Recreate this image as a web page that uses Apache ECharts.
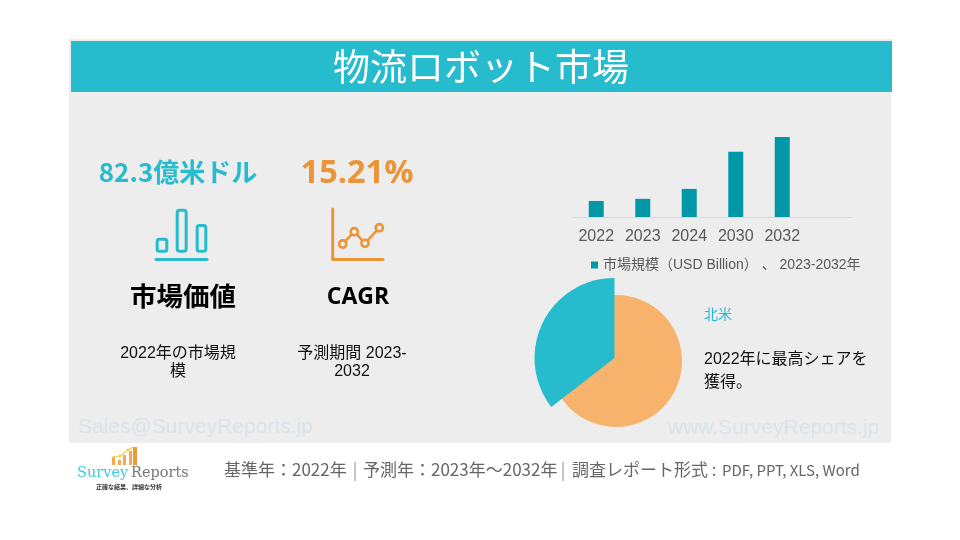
<!DOCTYPE html>
<html><head><meta charset="utf-8">
<style>html,body{margin:0;padding:0;background:#fff}#c{width:960px;height:540px}</style>
<script src="https://cdn.jsdelivr.net/npm/echarts@6/dist/echarts.min.js"></script>
</head><body><div id="c"></div>
<script>
const categories = ['2022','2023','2024','2030','2032',''];
const marketSize = [8.23,9.3,14.4,33.4,41,null];
const pieNames = ['その他','北米'];
const pieValues = [64.5,35.5];
const seriesName = '市場規模（USD Billion） 、 2023-2032年';
const TEAL='#26BBCD', ORANGE='#EB9537', PIE_ORANGE='#F7B36B', JP='"Noto Sans CJK JP"', LAT='"Open Sans"', ARIAL='"Liberation Sans","Noto Sans CJK JP"';

function text(x,y,t,size,fill,opt={}){
  return {type:'text',x,y,silent:true,z:opt.z||5,style:{text:t,fontSize:size,fill,
    fontFamily:opt.font||JP,fontWeight:opt.weight||'normal',
    align:opt.align||'center',verticalAlign:'middle',lineHeight:opt.lh}};
}
function rrect(x,y,w,h,r,stroke,lw){return {type:'rect',z:5,silent:true,shape:{x,y,width:w,height:h,r},style:{fill:'none',stroke,lineWidth:lw}};}
function line(pts,stroke,lw){return {type:'polyline',z:5,silent:true,shape:{points:pts},style:{fill:'none',stroke,lineWidth:lw,lineCap:'round',lineJoin:'round'}};}
function ring(x,y,r,stroke,lw){return {type:'circle',z:6,silent:true,shape:{cx:x,cy:y,r},style:{fill:'#EDEDED',stroke,lineWidth:lw}};}
function dot(x,y,r,fill){return {type:'circle',z:6,silent:true,shape:{cx:x,cy:y,r},style:{fill}};}
function box(x,y,w,h,fill,z){return {type:'rect',silent:true,z:z||0,shape:{x,y,width:w,height:h},style:{fill}};}

const FG='#666666';
const graphics = [
  box(69,39,822,404,'#EDEDED',-1),
  box(891,39,1,2,'#EDEDED',-1),
  box(71,41,821,51,TEAL,0),
  text(481,67,'物流ロボット市場',37,'#fff'),
  text(178,172,'82.3億米ドル',26,TEAL,{weight:'bold'}),
  text(357,174,'15.21%',32.5,ORANGE,{font:LAT,weight:'bold'}),
  text(183,296,'市場価値',26.5,'#000',{weight:'bold'}),
  text(358,297,'CAGR',23,'#000',{font:LAT,weight:'bold'}),
  text(178,362.5,'2022年の市場規\n模',16,'#111',{lh:18,font:ARIAL}),
  text(352,362.5,'予測期間 2023-\n2032',16,'#111',{lh:18,font:ARIAL}),
  text(704,314,'北米',14,TEAL,{align:'left'}),
  text(704,371,'2022年に最高シェアを\n獲得。',16,'#111',{align:'left',lh:23,font:ARIAL}),
  text(78,427,'Sales@SurveyReports.jp',21,'#DAE3EB',{align:'left',font:'"Liberation Sans"'}),
  text(668,428,'www.SurveyReports.jp',21,'#DAE3EB',{align:'left',font:'"Liberation Sans"'}),
  text(224,470,'基準年：2022年',17,FG,{align:'left'}),
  text(355,470,'|',17,'#999',{}),
  text(363,470,'予測年：2023年～2032年',17,FG,{align:'left'}),
  text(563,470,'|',17,'#999',{}),
  text(572,470,'調査レポート形式 :',17,FG,{align:'left'}),
  text(722,470,'PDF, PPT, XLS, Word',15,FG,{align:'left'}),
  // bar icon
  rrect(157.2,239.2,9.6,12,2,TEAL,3),
  rrect(177.2,210.2,9,41,2.5,TEAL,3),
  rrect(197.2,225.5,8.6,25.7,2,TEAL,3),
  line([[156,259.5],[207,259.5]],TEAL,3),
  // CAGR icon
  line([[332.7,209],[332.7,259.5],[383,259.5]],ORANGE,3),
  line([[342.7,244],[354.3,231.7],[365,243.3],[379.3,227.7]],ORANGE,2.6),
  ring(342.7,244,3.6,ORANGE,2.6),ring(354.3,231.7,3.6,ORANGE,2.6),ring(365,243.3,3.6,ORANGE,2.6),ring(379.3,227.7,3.6,ORANGE,2.6),
  // logo
  box(112,457,3,8,'#F5A850',3),box(118,460,3,5,'#F5A850',3),box(123,455,3,10,'#F5A850',3),box(129,451,3,14,'#F5A850',3),box(133,447,4,18,'#F09A3C',3),
  line([[112,457],[120,456],[128,450],[133,447]],'#F5D04A',1.2),
  dot(120,456,1.4,'#F5D04A'),dot(128,450,1.4,'#F5D04A'),
  text(77,473,'Survey',14.5,'#3CC8E8',{align:'left',font:'"DejaVu Serif"'}),
  text(131,473,'Reports',14.5,'#777777',{align:'left',font:'"DejaVu Serif"'}),
  text(129,487,'正確な結果、詳細な分析',6,'#333',{weight:'bold'})
];

const chart = echarts.init(document.getElementById('c'),null,{renderer:'canvas'});
const noBorder = {borderWidth:0};
chart.setOption({
  animation:false,
  backgroundColor:'#fff',
  graphic:graphics,
  grid:{left:573,top:137,width:279,height:80,containLabel:false},
  legend:{data:[seriesName],left:586,top:253,itemWidth:7,itemHeight:7,icon:'rect',itemGap:5,
    textStyle:{fontSize:14,color:'#595959',fontFamily:ARIAL}},
  xAxis:{type:'category',data:categories,
    axisLine:{lineStyle:{color:'#D9D9D9',width:1}},axisTick:{show:false},
    axisLabel:{fontSize:16,color:'#595959',fontFamily:'"Liberation Sans"',margin:12,interval:0}},
  yAxis:{type:'value',min:0,max:41,show:false,splitLine:{show:false}},
  series:[
    {type:'bar',name:seriesName,data:marketSize,barWidth:15,itemStyle:{color:'#0097A7'},z:3},
    {type:'pie',name:'orange',center:[616,361],radius:[0,66],startAngle:90,z:2,label:{show:false},labelLine:{show:false},silent:true,
      data:pieNames.map((n,i)=>({name:n,value:pieValues[i],itemStyle:{...noBorder,color:PIE_ORANGE}}))},
    {type:'pie',name:'teal',center:[614.5,358],radius:[0,80],startAngle:90,z:4,label:{show:false},labelLine:{show:false},silent:true,
      data:pieNames.map((n,i)=>({name:n,value:pieValues[i],itemStyle:{...noBorder,color:i===1?TEAL:'rgba(0,0,0,0)'}}))}
  ]
});
</script></body></html>
